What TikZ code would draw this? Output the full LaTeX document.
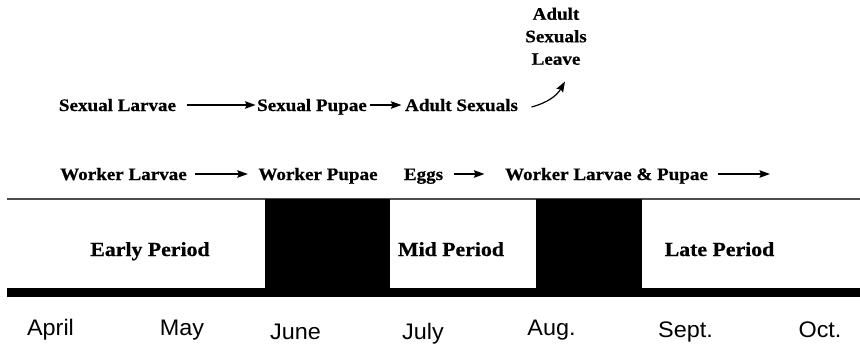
\documentclass[tikz,border=0pt]{standalone}
\usepackage{fontspec}
\setmainfont{Liberation Serif}[FakeStretch=1.09, BoldFeatures={FakeBold=0.6}]
\setsansfont{Liberation Sans}[FakeStretch=1.04]
\usetikzlibrary{arrows.meta}

\begin{document}
\begin{tikzpicture}[
    x = 1pt,
    y = -1pt,
    line width = 1.2pt,
    >={Stealth[length=10.5pt,width=7.5pt,inset=1.5pt]},
    txt/.style = {
      inner sep = 0pt,
      font = \fontsize{17.5}{22.5}\selectfont\bfseries
    },
    stage/.style = {
      txt,
      anchor = base,
      text height = 12pt,
      text depth = 0pt
    },
    period/.style = {
      anchor = base,
      inner sep = 0pt,
      font = \fontsize{20}{24}\selectfont\bfseries
    },
    month/.style = {
      anchor = base,
      inner sep = 0pt,
      font = \fontsize{22.5}{26}\selectfont\sffamily
    }
  ]
  \useasboundingbox (0,0) rectangle (860,346);

  % time line
  \draw[gray!60!black] (7,199) -- (860,199);
  \fill (265,199) rectangle (390,297);
  \fill (536,199) rectangle (642,297);
  \fill (7,288) rectangle (860,297);

  \node[period] (early) at (150,256) {Early Period};
  \node[period] (mid)   at (451,256) {Mid Period};
  \node[period] (late)  at (719.5,256) {Late Period};

  \node[month] (apr) at (50.5,335) {April};
  \node[month] (may) at (182,335)  {May};
  \node[month] (jun) at (295.5,339) {June};
  \node[month] (jul) at (423,339)  {July};
  \node[month] (aug) at (551.5,335) {Aug.};
  \node[month] (sep) at (685.5,337) {Sept.};
  \node[month] (oct) at (820,337)  {Oct.};

  % sexuals
  \node[stage] (sl) at (117.5,111) {Sexual Larvae};
  \node[stage] (sp) at (312,111)   {Sexual Pupae};
  \node[stage] (as) at (461.5,111) {Adult Sexuals};
  \node[txt, anchor=north, align=center] (asl) at (556,7) {Adult\\Sexuals\\Leave};

  \draw[->, shorten <=10pt, shorten >=1pt] (sl) -- (sp);
  \draw[->, shorten <=3pt, shorten >=3pt] (sp) -- (as);
  \draw[->] ([xshift=13pt,yshift=-2pt]as.east) to[out=15, in=240]
    ([xshift=9pt,yshift=-16pt]asl.south);

  % workers
  \node[stage] (wl)  at (123.5,180) {Worker Larvae};
  \node[stage] (wp)  at (318,180)   {Worker Pupae};
  \node[stage] (eg)  at (423.5,180) {Eggs};
  \node[stage] (wlp) at (606.5,180) {Worker Larvae \& Pupae};
  \coordinate (wend) at (770,174);

  \draw[->, shorten <=8pt, shorten >=10pt] (wl) -- (wp);
  \draw[->, shorten <=10pt, shorten >=20pt] (eg) -- (wlp);
  \draw[->, shorten <=9pt] (wlp) -- (wend);
\end{tikzpicture}
\end{document}
